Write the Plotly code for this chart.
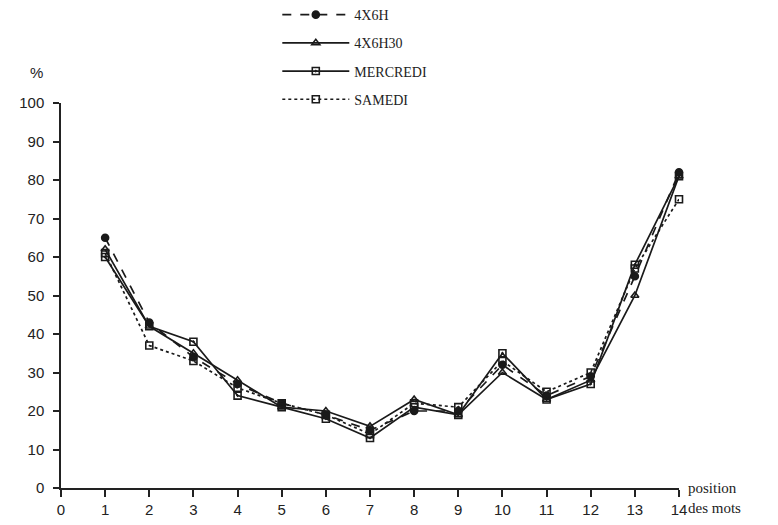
import plotly.graph_objects as go

positions = list(range(1, 15))
series_names = ["4X6H", "4X6H30", "MERCREDI", "SAMEDI"]
v_4x6h = [65, 43, 34, 27, 22, 19, 15, 20, 20, 32, 24, 29, 55, 82]
v_4x6h30 = [62, 42, 35, 28, 21, 20, 16, 23, 19, 30, 23, 28, 50, 81]
v_mercredi = [60, 42, 38, 24, 21, 18, 13, 21, 19, 35, 23, 27, 58, 81]
v_samedi = [61, 37, 33, 26, 22, 19, 14, 22, 21, 33, 25, 30, 57, 75]
x_ticks = list(range(0, 15))
y_ticks = list(range(0, 101, 10))

styles = [
    dict(dash="dash", symbol="circle", size=7),
    dict(dash="solid", symbol="triangle-up-open", size=7),
    dict(dash="solid", symbol="square-open-dot", size=7),
    dict(dash="dot", symbol="square-open", size=7),
]
values = [v_4x6h, v_4x6h30, v_mercredi, v_samedi]

fig = go.Figure()
for name, vals, st in zip(series_names, values, styles):
    fig.add_trace(go.Scatter(
        x=positions, y=vals, name=name, mode="lines+markers",
        legendgroup=name,
        line=dict(color="#1a1a1a", width=1.7, dash=st["dash"]),
        marker=dict(symbol=st["symbol"], size=st["size"], color="#1a1a1a",
                    line=dict(color="#1a1a1a", width=1.6)),
        cliponaxis=False,
    ))

axis_font = dict(family="Liberation Sans Narrow, Arial Narrow, Liberation Sans, sans-serif",
                 size=15, color="#222")
serif_font = dict(family="Liberation Serif, Times New Roman, serif", size=14, color="#222")

fig.update_layout(
    width=778, height=525,
    margin=dict(l=53, r=107, t=95, b=45, autoexpand=False),
    paper_bgcolor="white", plot_bgcolor="white",
    showlegend=True,
    legend=dict(x=0.35, y=1.27, xanchor="left", yanchor="top",
                font=serif_font, itemwidth=67,
                tracegroupgap=7, bgcolor="rgba(0,0,0,0)"),
    xaxis=dict(range=[0, 14], tickvals=x_ticks, ticktext=[str(t) for t in x_ticks],
               showgrid=False, zeroline=False, showline=True, linecolor="#222", linewidth=2,
               ticks="outside", ticklen=7, tickwidth=1.5, tickcolor="#222",
               tickfont=axis_font),
    yaxis=dict(range=[0, 100], tickvals=y_ticks, showgrid=False, zeroline=False,
               showline=True, linecolor="#222", linewidth=1.5,
               ticks="outside", ticklen=6, tickwidth=1.5, tickcolor="#222",
               ticklabelstandoff=6, tickfont=axis_font),
    annotations=[
        dict(text="%", x=-0.04, y=1.08, xref="paper", yref="paper", showarrow=False,
             xanchor="center", yanchor="middle", font=axis_font),
        dict(text="position<br>des mots", x=1.012, y=-0.025, xref="paper", yref="paper",
             showarrow=False, xanchor="left", yanchor="middle", align="left",
             font=dict(family="Liberation Serif, Times New Roman, serif", size=15, color="#222")),
    ],
)

fig.write_html("out.html")
